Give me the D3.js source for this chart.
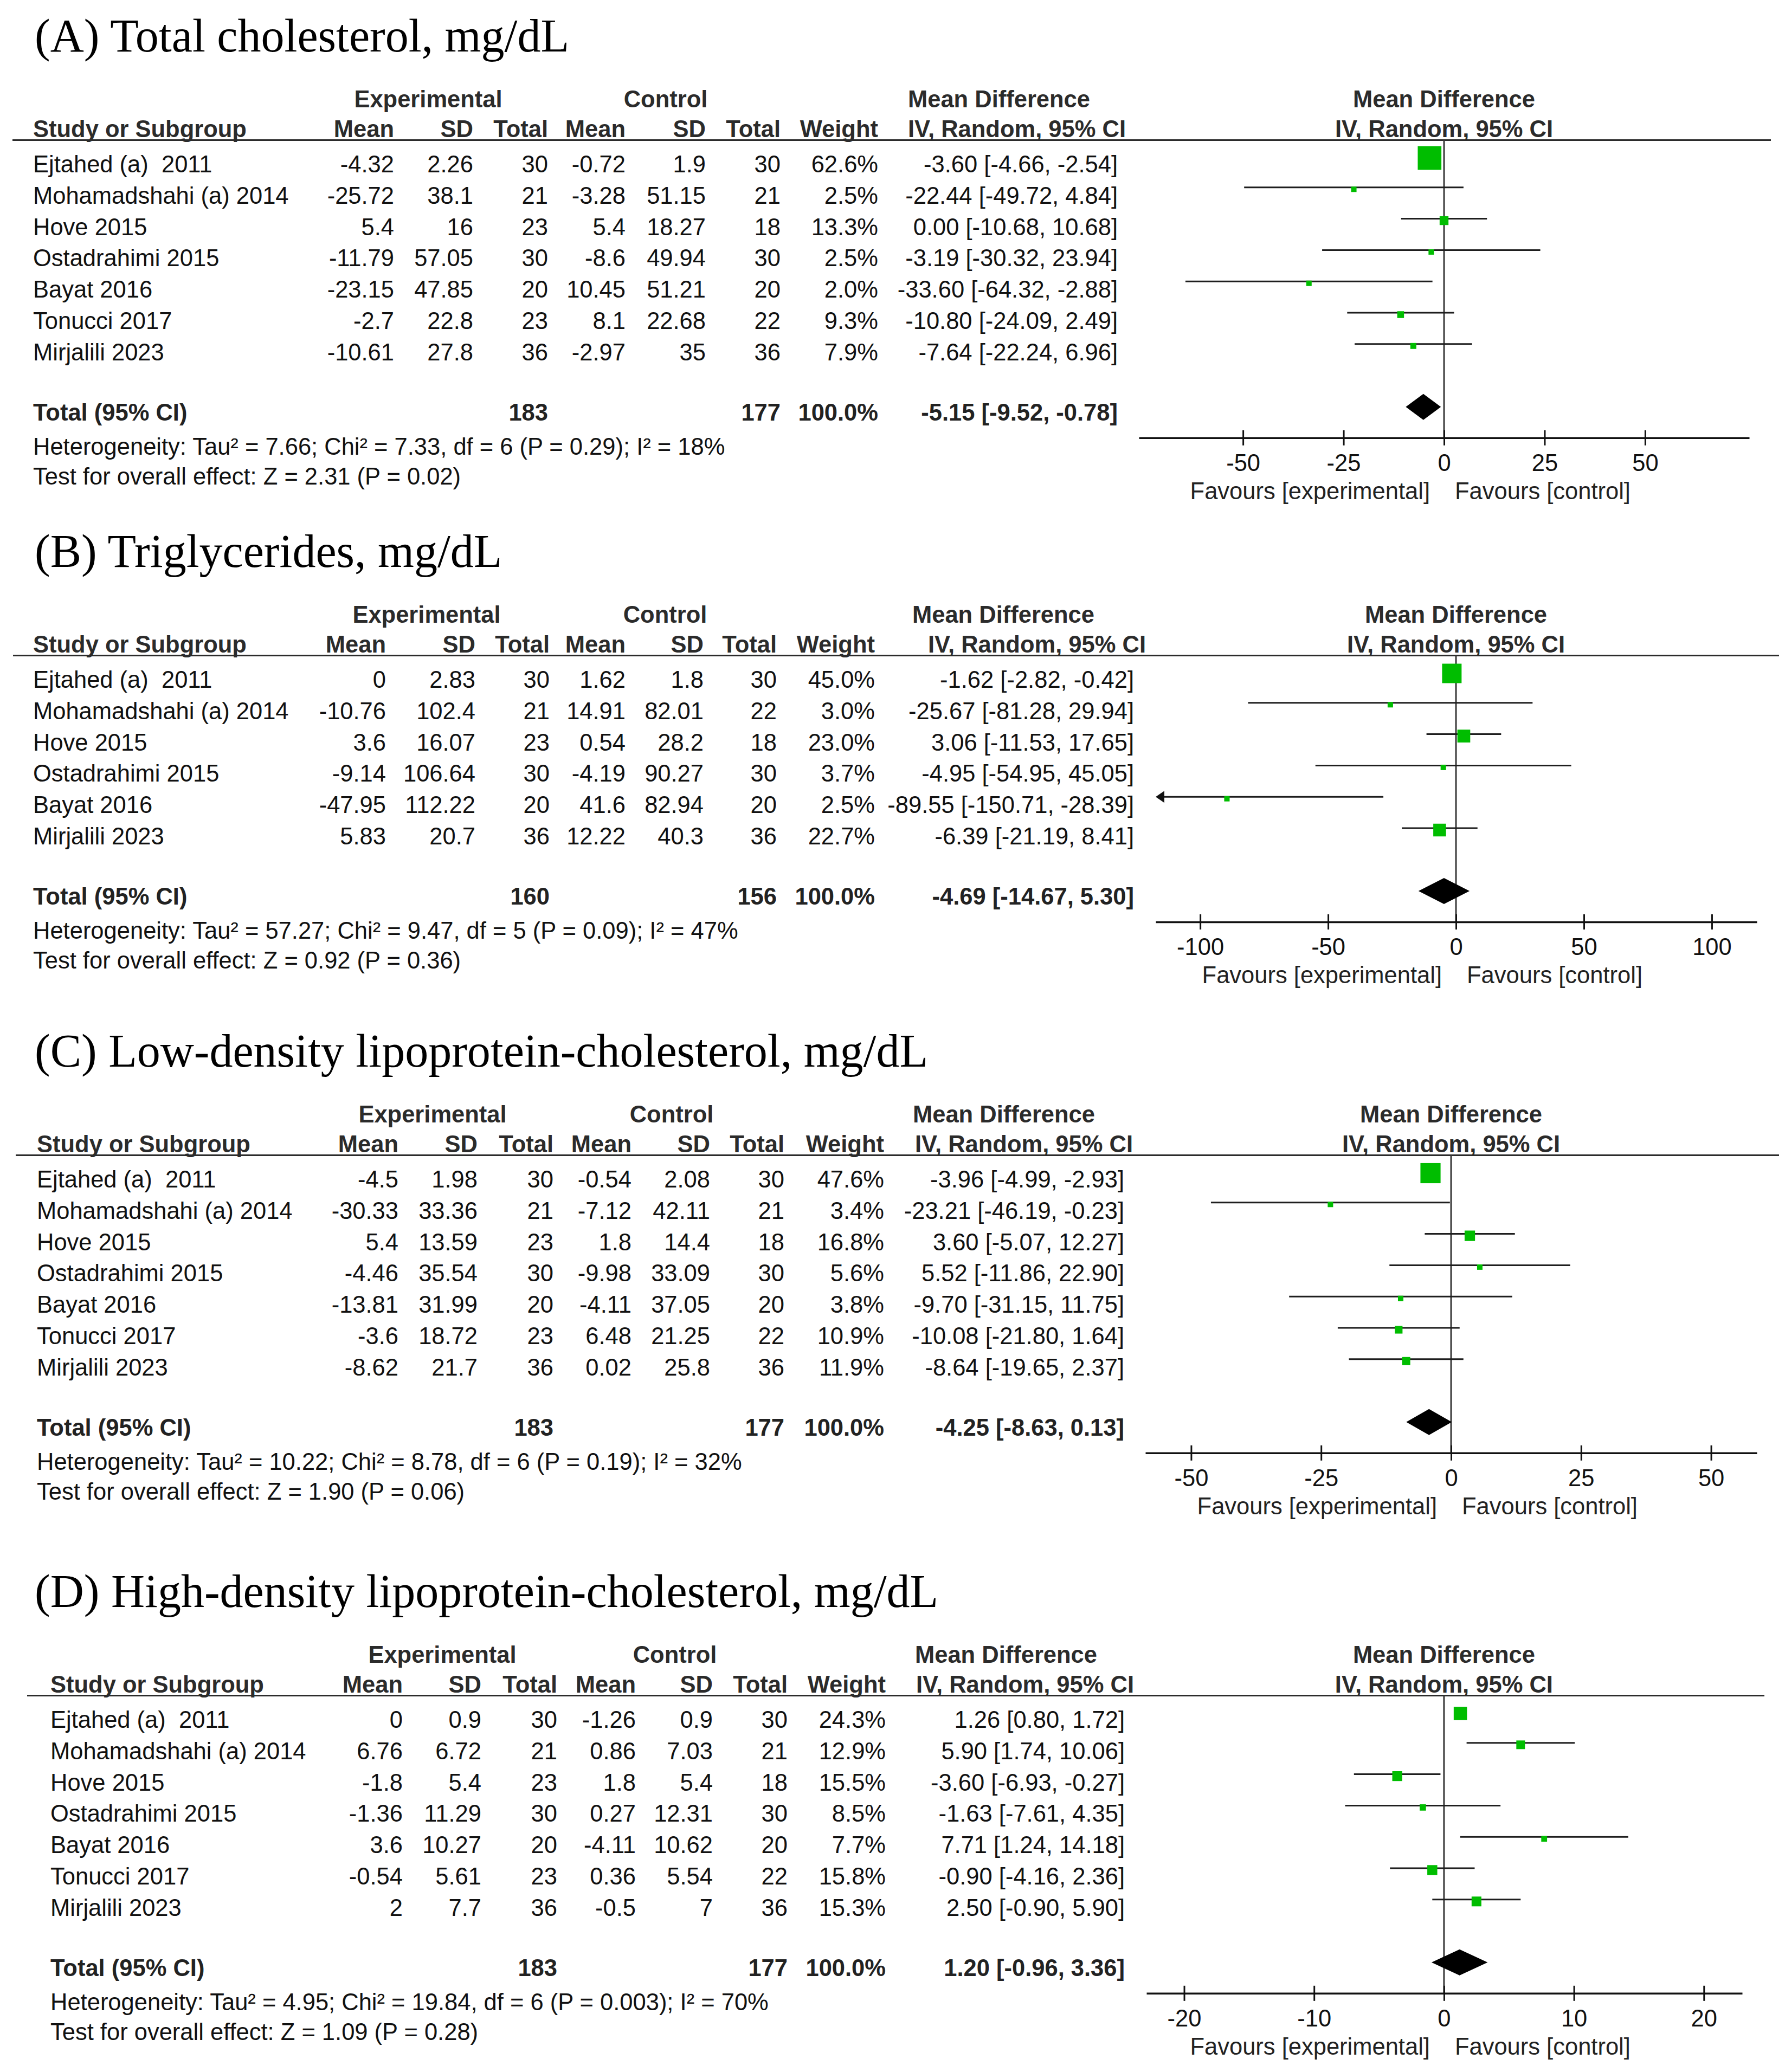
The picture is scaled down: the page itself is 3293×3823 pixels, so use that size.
<!DOCTYPE html>
<html>
<head>
<meta charset="utf-8">
<script src="https://cdn.jsdelivr.net/npm/d3@7"></script>
<style>
  html, body { margin: 0; padding: 0; background: #ffffff; }
  svg { display: block; }
  text { white-space: pre; }
</style>
</head>
<body>
<script>
// ---------------- DATA ----------------
const studies7 = ["Ejtahed (a)  2011", "Mohamadshahi (a) 2014", "Hove 2015", "Ostadrahimi 2015", "Bayat 2016", "Tonucci 2017", "Mirjalili 2023"];
const studies6 = ["Ejtahed (a)  2011", "Mohamadshahi (a) 2014", "Hove 2015", "Ostadrahimi 2015", "Bayat 2016", "Mirjalili 2023"];
const panelTitles = ["(A) Total cholesterol, mg/dL", "(B) Triglycerides, mg/dL", "(C) Low-density lipoprotein-cholesterol, mg/dL", "(D) High-density lipoprotein-cholesterol, mg/dL"];

// (A) Total cholesterol
const expMeanA = [-4.32, -25.72, 5.4, -11.79, -23.15, -2.7, -10.61];
const expSdA   = [2.26, 38.1, 16, 57.05, 47.85, 22.8, 27.8];
const expNA    = [30, 21, 23, 30, 20, 23, 36];
const ctlMeanA = [-0.72, -3.28, 5.4, -8.6, 10.45, 8.1, -2.97];
const ctlSdA   = [1.9, 51.15, 18.27, 49.94, 51.21, 22.68, 35];
const ctlNA    = [30, 21, 18, 30, 20, 22, 36];
const weightA  = [62.6, 2.5, 13.3, 2.5, 2.0, 9.3, 7.9];
const mdA      = [-3.60, -22.44, 0.00, -3.19, -33.60, -10.80, -7.64];
const loA      = [-4.66, -49.72, -10.68, -30.32, -64.32, -24.09, -22.24];
const hiA      = [-2.54, 4.84, 10.68, 23.94, -2.88, 2.49, 6.96];
const totalsA  = [183, 177];
const pooledA  = [-5.15, -9.52, -0.78];
const hetA  = "Heterogeneity: Tau² = 7.66; Chi² = 7.33, df = 6 (P = 0.29); I² = 18%";
const testA = "Test for overall effect: Z = 2.31 (P = 0.02)";
const ticksA = [-50, -25, 0, 25, 50];

// (B) Triglycerides
const expMeanB = [0, -10.76, 3.6, -9.14, -47.95, 5.83];
const expSdB   = [2.83, 102.4, 16.07, 106.64, 112.22, 20.7];
const expNB    = [30, 21, 23, 30, 20, 36];
const ctlMeanB = [1.62, 14.91, 0.54, -4.19, 41.6, 12.22];
const ctlSdB   = [1.8, 82.01, 28.2, 90.27, 82.94, 40.3];
const ctlNB    = [30, 22, 18, 30, 20, 36];
const weightB  = [45.0, 3.0, 23.0, 3.7, 2.5, 22.7];
const mdB      = [-1.62, -25.67, 3.06, -4.95, -89.55, -6.39];
const loB      = [-2.82, -81.28, -11.53, -54.95, -150.71, -21.19];
const hiB      = [-0.42, 29.94, 17.65, 45.05, -28.39, 8.41];
const totalsB  = [160, 156];
const pooledB  = [-4.69, -14.67, 5.30];
const hetB  = "Heterogeneity: Tau² = 57.27; Chi² = 9.47, df = 5 (P = 0.09); I² = 47%";
const testB = "Test for overall effect: Z = 0.92 (P = 0.36)";
const ticksB = [-100, -50, 0, 50, 100];

// (C) LDL-cholesterol
const expMeanC = [-4.5, -30.33, 5.4, -4.46, -13.81, -3.6, -8.62];
const expSdC   = [1.98, 33.36, 13.59, 35.54, 31.99, 18.72, 21.7];
const expNC    = [30, 21, 23, 30, 20, 23, 36];
const ctlMeanC = [-0.54, -7.12, 1.8, -9.98, -4.11, 6.48, 0.02];
const ctlSdC   = [2.08, 42.11, 14.4, 33.09, 37.05, 21.25, 25.8];
const ctlNC    = [30, 21, 18, 30, 20, 22, 36];
const weightC  = [47.6, 3.4, 16.8, 5.6, 3.8, 10.9, 11.9];
const mdC      = [-3.96, -23.21, 3.60, 5.52, -9.70, -10.08, -8.64];
const loC      = [-4.99, -46.19, -5.07, -11.86, -31.15, -21.80, -19.65];
const hiC      = [-2.93, -0.23, 12.27, 22.90, 11.75, 1.64, 2.37];
const totalsC  = [183, 177];
const pooledC  = [-4.25, -8.63, 0.13];
const hetC  = "Heterogeneity: Tau² = 10.22; Chi² = 8.78, df = 6 (P = 0.19); I² = 32%";
const testC = "Test for overall effect: Z = 1.90 (P = 0.06)";
const ticksC = [-50, -25, 0, 25, 50];

// (D) HDL-cholesterol
const expMeanD = [0, 6.76, -1.8, -1.36, 3.6, -0.54, 2];
const expSdD   = [0.9, 6.72, 5.4, 11.29, 10.27, 5.61, 7.7];
const expND    = [30, 21, 23, 30, 20, 23, 36];
const ctlMeanD = [-1.26, 0.86, 1.8, 0.27, -4.11, 0.36, -0.5];
const ctlSdD   = [0.9, 7.03, 5.4, 12.31, 10.62, 5.54, 7];
const ctlND    = [30, 21, 18, 30, 20, 22, 36];
const weightD  = [24.3, 12.9, 15.5, 8.5, 7.7, 15.8, 15.3];
const mdD      = [1.26, 5.90, -3.60, -1.63, 7.71, -0.90, 2.50];
const loD      = [0.80, 1.74, -6.93, -7.61, 1.24, -4.16, -0.90];
const hiD      = [1.72, 10.06, -0.27, 4.35, 14.18, 2.36, 5.90];
const totalsD  = [183, 177];
const pooledD  = [1.20, -0.96, 3.36];
const hetD  = "Heterogeneity: Tau² = 4.95; Chi² = 19.84, df = 6 (P = 0.003); I² = 70%";
const testD = "Test for overall effect: Z = 1.09 (P = 0.28)";
const ticksD = [-20, -10, 0, 10, 20];

const colHeaders = ["Mean", "SD", "Total", "Mean", "SD", "Total", "Weight"];

// ---------------- LAYOUT ----------------
const W = 3293, H = 3823;
const SANS = "'Liberation Sans', Arial, Helvetica, sans-serif";
const SERIF = "'Liberation Serif', 'Times New Roman', Times, serif";
const FS = 43.5;
const ROW0 = 318, ROWH = 57.8;

const layouts = [
  { yOff: 0,    textX: 61, lineX0: 23, lineX1: 3267, cols: [727, 873, 1011, 1154, 1302, 1440, 1620, 2062], expC: 790, ctlC: 1228, mdC: 1843, ivR: 2077, domain: [-75.9, 75.9],   range: [2101, 3227] },
  { yOff: 951,  textX: 61, lineX0: 24, lineX1: 3282, cols: [712, 877, 1014, 1154, 1298, 1433, 1614, 2092], expC: 787, ctlC: 1227, mdC: 1851, ivR: 2114, domain: [-117.4, 117.6], range: [2132, 3241] },
  { yOff: 1873, textX: 68, lineX0: 29, lineX1: 3282, cols: [735, 881, 1021, 1165, 1310, 1447, 1631, 2074], expC: 798, ctlC: 1239, mdC: 1852, ivR: 2090, domain: [-58.8, 58.8],   range: [2113, 3241] },
  { yOff: 2870, textX: 93, lineX0: 50, lineX1: 3255, cols: [743, 888, 1028, 1173, 1315, 1453, 1634, 2075], expC: 816, ctlC: 1245, mdC: 1856, ivR: 2092, domain: [-22.9, 22.95],  range: [2115, 3214] }
];

const panels = [
  { title: panelTitles[0], names: studies7, em: expMeanA, es: expSdA, en: expNA, cm: ctlMeanA, cs: ctlSdA, cn: ctlNA, w: weightA, md: mdA, lo: loA, hi: hiA, totals: totalsA, pooled: pooledA, het: hetA, test: testA, ticks: ticksA },
  { title: panelTitles[1], names: studies6, em: expMeanB, es: expSdB, en: expNB, cm: ctlMeanB, cs: ctlSdB, cn: ctlNB, w: weightB, md: mdB, lo: loB, hi: hiB, totals: totalsB, pooled: pooledB, het: hetB, test: testB, ticks: ticksB },
  { title: panelTitles[2], names: studies7, em: expMeanC, es: expSdC, en: expNC, cm: ctlMeanC, cs: ctlSdC, cn: ctlNC, w: weightC, md: mdC, lo: loC, hi: hiC, totals: totalsC, pooled: pooledC, het: hetC, test: testC, ticks: ticksC },
  { title: panelTitles[3], names: studies7, em: expMeanD, es: expSdD, en: expND, cm: ctlMeanD, cs: ctlSdD, cn: ctlND, w: weightD, md: mdD, lo: loD, hi: hiD, totals: totalsD, pooled: pooledD, het: hetD, test: testD, ticks: ticksD }
];

const svg = d3.select("body").append("svg")
  .attr("width", W).attr("height", H)
  .attr("viewBox", `0 0 ${W} ${H}`);
svg.append("rect").attr("width", W).attr("height", H).attr("fill", "#fff");

const fmtCI = (m, l, h) => `${m.toFixed(2)} [${l.toFixed(2)}, ${h.toFixed(2)}]`;
const sqSize = d3.scaleSqrt().domain([0, 100]).range([0, 64]);
const boxSize = w => Math.max(10, sqSize(w) - 7);

function drawPanel(p, L) {
  const g = svg.append("g").attr("transform", `translate(0,${L.yOff})`);
  const x = d3.scaleLinear().domain(L.domain).range(L.range);
  const n = p.names.length;
  const rowBase = i => ROW0 + ROWH * i;
  const lastBase = rowBase(n - 1);
  const totalBase = lastBase + 111;
  const hetBase = totalBase + 63;
  const testBase = hetBase + 55;
  const axisY = totalBase + 32;
  const headLineY = 258.5;

  // Title
  g.append("text").attr("x", 64).attr("y", 95)
    .attr("font-family", SERIF).attr("font-size", 86).attr("fill", "#000")
    .text(p.title);

  // Header texts
  const hdr = g.append("g").attr("font-family", SANS).attr("font-size", FS)
    .attr("font-weight", "bold").attr("fill", "#2b2b2b");
  hdr.append("text").attr("x", L.expC).attr("y", 198).attr("text-anchor", "middle").text("Experimental");
  hdr.append("text").attr("x", L.ctlC).attr("y", 198).attr("text-anchor", "middle").text("Control");
  hdr.append("text").attr("x", L.mdC).attr("y", 198).attr("text-anchor", "middle").text("Mean Difference");
  hdr.append("text").attr("x", x(0)).attr("y", 198).attr("text-anchor", "middle").text("Mean Difference");
  hdr.append("text").attr("x", L.textX).attr("y", 253).text("Study or Subgroup");
  hdr.selectAll("text.colh").data(colHeaders).join("text").attr("class", "colh")
    .attr("x", (d, i) => L.cols[i]).attr("y", 253).attr("text-anchor", "end").text(d => d);
  hdr.append("text").attr("x", L.ivR).attr("y", 253).attr("text-anchor", "end").text("IV, Random, 95% CI");
  hdr.append("text").attr("x", x(0)).attr("y", 253).attr("text-anchor", "middle").text("IV, Random, 95% CI");

  // Header rule
  g.append("line").attr("x1", L.lineX0).attr("x2", L.lineX1)
    .attr("y1", headLineY).attr("y2", headLineY)
    .attr("stroke", "#2b2b2b").attr("stroke-width", 3);

  // Study rows (table)
  const rows = d3.range(n).map(i => ({
    i, name: p.names[i],
    cells: [p.em[i], p.es[i], p.en[i], p.cm[i], p.cs[i], p.cn[i]].map(String)
      .concat([p.w[i].toFixed(1) + "%", fmtCI(p.md[i], p.lo[i], p.hi[i])]),
    md: p.md[i], lo: p.lo[i], hi: p.hi[i], w: p.w[i]
  }));
  const body = g.append("g").attr("font-family", SANS).attr("font-size", FS).attr("fill", "#111");
  const rowG = body.selectAll("g.row").data(rows).join("g").attr("class", "row")
    .attr("transform", d => `translate(0,${rowBase(d.i)})`);
  rowG.append("text").attr("x", L.textX).attr("y", 0).text(d => d.name);
  rowG.selectAll("text.cell").data(d => d.cells).join("text").attr("class", "cell")
    .attr("x", (d, j) => L.cols[j]).attr("y", 0).attr("text-anchor", "end").text(d => d);

  // Total row
  const tot = g.append("g").attr("font-family", SANS).attr("font-size", FS)
    .attr("font-weight", "bold").attr("fill", "#222");
  tot.append("text").attr("x", L.textX).attr("y", totalBase).text("Total (95% CI)");
  tot.append("text").attr("x", L.cols[2]).attr("y", totalBase).attr("text-anchor", "end").text(p.totals[0]);
  tot.append("text").attr("x", L.cols[5]).attr("y", totalBase).attr("text-anchor", "end").text(p.totals[1]);
  tot.append("text").attr("x", L.cols[6]).attr("y", totalBase).attr("text-anchor", "end").text("100.0%");
  tot.append("text").attr("x", L.cols[7]).attr("y", totalBase).attr("text-anchor", "end")
    .text(fmtCI(p.pooled[0], p.pooled[1], p.pooled[2]));

  body.append("text").attr("x", L.textX).attr("y", hetBase).text(p.het);
  body.append("text").attr("x", L.textX).attr("y", testBase).text(p.test);

  // ---- Forest plot ----
  g.append("line").attr("x1", x(0)).attr("x2", x(0))
    .attr("y1", headLineY).attr("y2", axisY)
    .attr("stroke", "#3a3a3a").attr("stroke-width", 3);

  const [dmin, dmax] = L.domain;
  const plotRows = g.append("g");
  const pr = plotRows.selectAll("g.pr").data(rows).join("g").attr("class", "pr")
    .attr("transform", d => `translate(0,${rowBase(d.i) - 30})`);
  const AH = 16, AW = 11;
  pr.append("line")
    .attr("x1", d => d.lo < dmin ? x(dmin) + AH * 0.6 : x(d.lo))
    .attr("x2", d => d.hi > dmax ? x(dmax) - AH * 0.6 : x(d.hi))
    .attr("y1", 0).attr("y2", 0)
    .attr("stroke", "#1e1e1e").attr("stroke-width", 3);
  pr.filter(d => d.lo < dmin).append("path")
    .attr("d", `M${x(dmin)},0 L${x(dmin) + AH},${-AW} L${x(dmin) + AH},${AW} Z`)
    .attr("fill", "#111");
  pr.filter(d => d.hi > dmax).append("path")
    .attr("d", `M${x(dmax)},0 L${x(dmax) - AH},${-AW} L${x(dmax) - AH},${AW} Z`)
    .attr("fill", "#111");
  pr.append("rect")
    .attr("x", d => x(d.md) - boxSize(d.w) / 2)
    .attr("y", d => 3.5 - boxSize(d.w) / 2)
    .attr("width", d => boxSize(d.w)).attr("height", d => boxSize(d.w))
    .attr("fill", "#00bd00");

  // pooled diamond
  const cy = totalBase - 25, hh = 24;
  const [pm, pl, ph] = p.pooled;
  g.append("path")
    .attr("d", `M${x(pl)},${cy} L${x(pm)},${cy - hh} L${x(ph)},${cy} L${x(pm)},${cy + hh} Z`)
    .attr("fill", "#000");

  // axis
  const axis = d3.axisBottom(x).tickValues(p.ticks).tickFormat(d => String(d))
    .tickSizeOuter(0).tickSizeInner(14).tickPadding(16);
  const ag = g.append("g").attr("transform", `translate(0,${axisY})`).call(axis);
  ag.select(".domain").attr("stroke", "#111").attr("stroke-width", 3.5);
  ag.selectAll(".tick line").attr("y1", -14).attr("y2", 14).attr("stroke", "#111").attr("stroke-width", 3);
  ag.selectAll(".tick text").attr("font-family", SANS).attr("font-size", FS).attr("fill", "#111");

  const fav = g.append("g").attr("font-family", SANS).attr("font-size", FS).attr("fill", "#222");
  fav.append("text").attr("x", x(0) - 26).attr("y", axisY + 113).attr("text-anchor", "end").text("Favours [experimental]");
  fav.append("text").attr("x", x(0) + 20).attr("y", axisY + 113).attr("text-anchor", "start").text("Favours [control]");
}

panels.forEach((p, k) => drawPanel(p, layouts[k]));
</script>
</body>
</html>
